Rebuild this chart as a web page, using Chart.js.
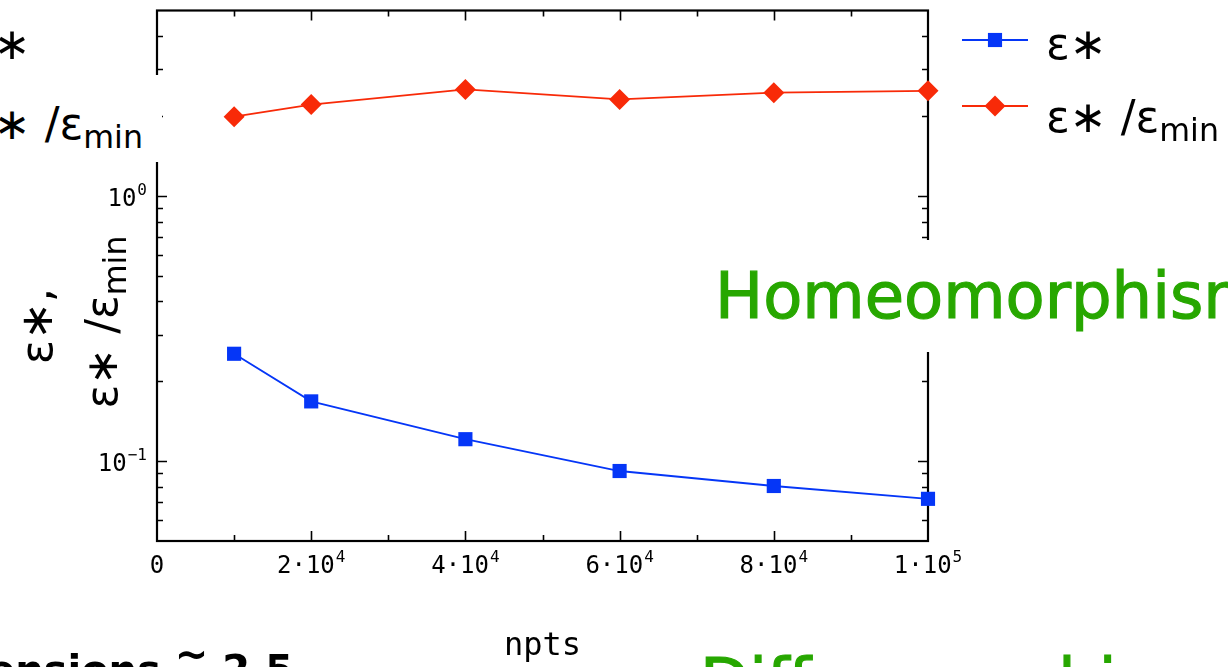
<!doctype html>
<html lang="en">
<head>
  <meta charset="utf-8">
  <title>eps* vs npts</title>
  <style>
    html, body { margin: 0; padding: 0; background: #fff; overflow: hidden; }
    #wrap { position: relative; width: 1228px; height: 667px; overflow: hidden; }
    #c { position: absolute; left: 0; top: 0; }
    .t { position: absolute; white-space: nowrap; font-family: 'DejaVu Sans', sans-serif; color: #000; line-height: 1; }
    .t sub { font-size: 0.72em; vertical-align: -0.28em; line-height: 0; }
    .box { background: #fff; }
    .green { color: #27a700; font-family: 'Comic Sans MS', 'DejaVu Sans', sans-serif; }
  </style>
</head>
<body>
<div id="wrap">
  <canvas id="c" width="1228" height="667"></canvas>

  <!-- pieces of the slide lying on top of the chart -->
  <div class="t" style="left:-30px; top:22px; font-size:44px;">ε∗</div>
  <div class="t box" style="left:-30px; top:75px; width:192px; height:87px; font-size:44px;">
    <div style="position:absolute; left:0; top:27px;">ε∗ /ε<sub>min</sub></div>
  </div>

  <div class="t" style="left:36px; top:326px; font-size:45px; transform:translate(-50%,-50%) rotate(-90deg);">ε∗,</div>
  <div class="t" style="left:102px; top:322px; font-size:44px; transform:translate(-50%,-50%) rotate(-90deg);">ε∗ /ε<sub>min</sub></div>

  <div id="leg1" class="t" style="left:1046px; top:22px; font-size:44px;"></div>
  <div id="leg2" class="t" style="left:1046px; top:95px; font-size:44px;"></div>

  <div class="t box green" style="left:715px; top:240px; width:513px; height:112px; font-size:64px;">
    <div style="position:absolute; left:0; top:24px; -webkit-text-stroke:1.2px #27a700;">Homeomorphism</div>
  </div>
  <div class="t green" style="left:700px; top:650px; font-size:64px; -webkit-text-stroke:1.2px #27a700;">Diffeomorphism</div>
  <div class="t" style="left:-12px; top:650px; font-size:40px; font-weight:bold;">ensions <span style="position:relative; top:-16px;">~</span> 2.5</div>
</div>

<script src="https://cdn.jsdelivr.net/npm/chart.js"></script>
<script>
  const npts = [10000, 20000, 40000, 60000, 80000, 100000];
  const epsStar = [0.254, 0.168, 0.121, 0.0918, 0.0806, 0.0721];
  const epsRatio = [1.99, 2.21, 2.52, 2.31, 2.45, 2.49];

  const xTickValues = [0, 20000, 40000, 60000, 80000, 100000];
  const xTickBase = ['0', '2·10', '4·10', '6·10', '8·10', '1·10'];
  const xTickExp = ['', '4', '4', '4', '4', '5'];
  const xMinorValues = [10000, 30000, 50000, 70000, 90000];
  const yTickValues = [0.1, 1];
  const yTickBase = ['10', '10'];
  const yTickExp = ['−1', '0'];
  const yMinorValues = [0.06, 0.07, 0.08, 0.09, 0.2, 0.3, 0.4, 0.5, 0.6, 0.7, 0.8, 0.9, 2, 3, 4];

  const seriesLabels = ['ε∗', 'ε∗ /ε<sub>min</sub>'];
  const BLUE = '#0536f7';
  const RED = '#f82a08';
  const MONO = "'DejaVu Sans Mono', monospace";

  document.getElementById('leg1').innerHTML = seriesLabels[0];
  document.getElementById('leg2').innerHTML = seriesLabels[1];

  function marker(ctx, style, r, x, y, color) {
    ctx.fillStyle = color;
    ctx.beginPath();
    if (style === 'rect') {
      const s = r * Math.SQRT1_2;
      ctx.rect(x - s, y - s, 2 * s, 2 * s);
    } else {
      ctx.moveTo(x, y - r); ctx.lineTo(x + r, y); ctx.lineTo(x, y + r); ctx.lineTo(x - r, y);
      ctx.closePath();
    }
    ctx.fill();
  }

  // label with a raised exponent; align: 'center' or 'right'
  function powLabel(ctx, base, exp, x, baseline, align) {
    const baseFont = '24px ' + MONO, expFont = '16px ' + MONO;
    ctx.font = baseFont;
    const wb = ctx.measureText(base).width;
    ctx.font = expFont;
    const we = exp ? ctx.measureText(exp).width + 1 : 0;
    const left = align === 'right' ? x - wb - we : x - (wb + we) / 2;
    ctx.textAlign = 'left';
    ctx.textBaseline = 'alphabetic';
    ctx.font = baseFont;
    ctx.fillText(base, left, baseline);
    if (exp) {
      ctx.font = expFont;
      ctx.fillText(exp, left + wb + 1, baseline - 11);
    }
  }

  // box with inward ticks, like the original plotting program
  const framePlugin = {
    id: 'frame',
    beforeDatasetsDraw(chart) {
      const { ctx, chartArea: a, scales } = chart;
      const xs = scales.x, ys = scales.y;
      ctx.save();
      ctx.strokeStyle = '#000';
      ctx.lineWidth = 1.6;
      const tick = (vals, len) => {
        vals.forEach(v => {
          const px = Math.round(xs.getPixelForValue(v)) + 0.5;
          ctx.beginPath();
          ctx.moveTo(px, a.bottom); ctx.lineTo(px, a.bottom - len);
          ctx.moveTo(px, a.top); ctx.lineTo(px, a.top + len);
          ctx.stroke();
        });
      };
      const ytick = (vals, len) => {
        vals.forEach(v => {
          const py = Math.round(ys.getPixelForValue(v)) + 0.5;
          ctx.beginPath();
          ctx.moveTo(a.left, py); ctx.lineTo(a.left + len, py);
          ctx.moveTo(a.right, py); ctx.lineTo(a.right - len, py);
          ctx.stroke();
        });
      };
      tick(xTickValues.slice(1, -1), 10);
      tick(xMinorValues, 6);
      ytick(yTickValues, 10);
      ytick(yMinorValues, 6);
      ctx.lineWidth = 2.2;
      ctx.strokeRect(a.left, a.top, a.right - a.left, a.bottom - a.top);

      ctx.fillStyle = '#000';
      xTickValues.forEach((v, i) => {
        powLabel(ctx, xTickBase[i], xTickExp[i], xs.getPixelForValue(v), a.bottom + 32, 'center');
      });
      yTickValues.forEach((v, i) => {
        powLabel(ctx, yTickBase[i], yTickExp[i], a.left - 10, ys.getPixelForValue(v) + 10, 'right');
      });
      ctx.restore();
    },
    afterDraw(chart) {
      // legend keys
      const ctx = chart.ctx;
      const rows = [40, 106];
      chart.data.datasets.forEach((ds, i) => {
        const y = rows[i];
        ctx.save();
        ctx.strokeStyle = ds.borderColor;
        ctx.lineWidth = ds.borderWidth;
        ctx.beginPath();
        ctx.moveTo(962, y); ctx.lineTo(1028, y);
        ctx.stroke();
        marker(ctx, ds.pointStyle, ds.pointRadius, 995, y, ds.backgroundColor);
        ctx.restore();
      });
    }
  };

  new Chart(document.getElementById('c'), {
    type: 'line',
    data: {
      datasets: [
        {
          label: 'ε∗',
          data: npts.map((x, i) => ({ x, y: epsStar[i] })),
          borderColor: BLUE, backgroundColor: BLUE, borderWidth: 1.8,
          pointStyle: 'rect', pointRadius: 10, pointBorderWidth: 0, clip: false
        },
        {
          label: 'ε∗ /εmin',
          data: npts.map((x, i) => ({ x, y: epsRatio[i] })),
          borderColor: RED, backgroundColor: RED, borderWidth: 1.8,
          pointStyle: 'rectRot', pointRadius: 10.5, pointBorderWidth: 0, clip: false
        }
      ]
    },
    options: {
      responsive: false,
      animation: false,
      layout: { padding: { top: 5, right: 300, left: 0, bottom: 0 } },
      plugins: { legend: { display: false }, tooltip: { enabled: false } },
      scales: {
        x: {
          type: 'linear', min: 0, max: 100000,
          afterBuildTicks: s => { s.ticks = xTickValues.map(v => ({ value: v })); },
          afterFit: s => { s.height = 126; s.paddingLeft = 0; s.paddingRight = 0; },
          grid: { display: false, drawTicks: false },
          border: { display: false },
          ticks: { display: false },
          title: {
            display: true, text: 'npts', color: '#000',
            font: { family: MONO, size: 32, lineHeight: 1.2 },
            padding: { top: 0, bottom: 1 }
          }
        },
        y: {
          type: 'logarithmic', min: 0.05, max: 5,
          afterBuildTicks: s => { s.ticks = yTickValues.map(v => ({ value: v })); },
          afterFit: s => { s.width = 157; s.paddingTop = 0; s.paddingBottom = 0; },
          grid: { display: false, drawTicks: false },
          border: { display: false },
          ticks: { display: false }
        }
      }
    },
    plugins: [framePlugin]
  });
</script>
</body>
</html>
